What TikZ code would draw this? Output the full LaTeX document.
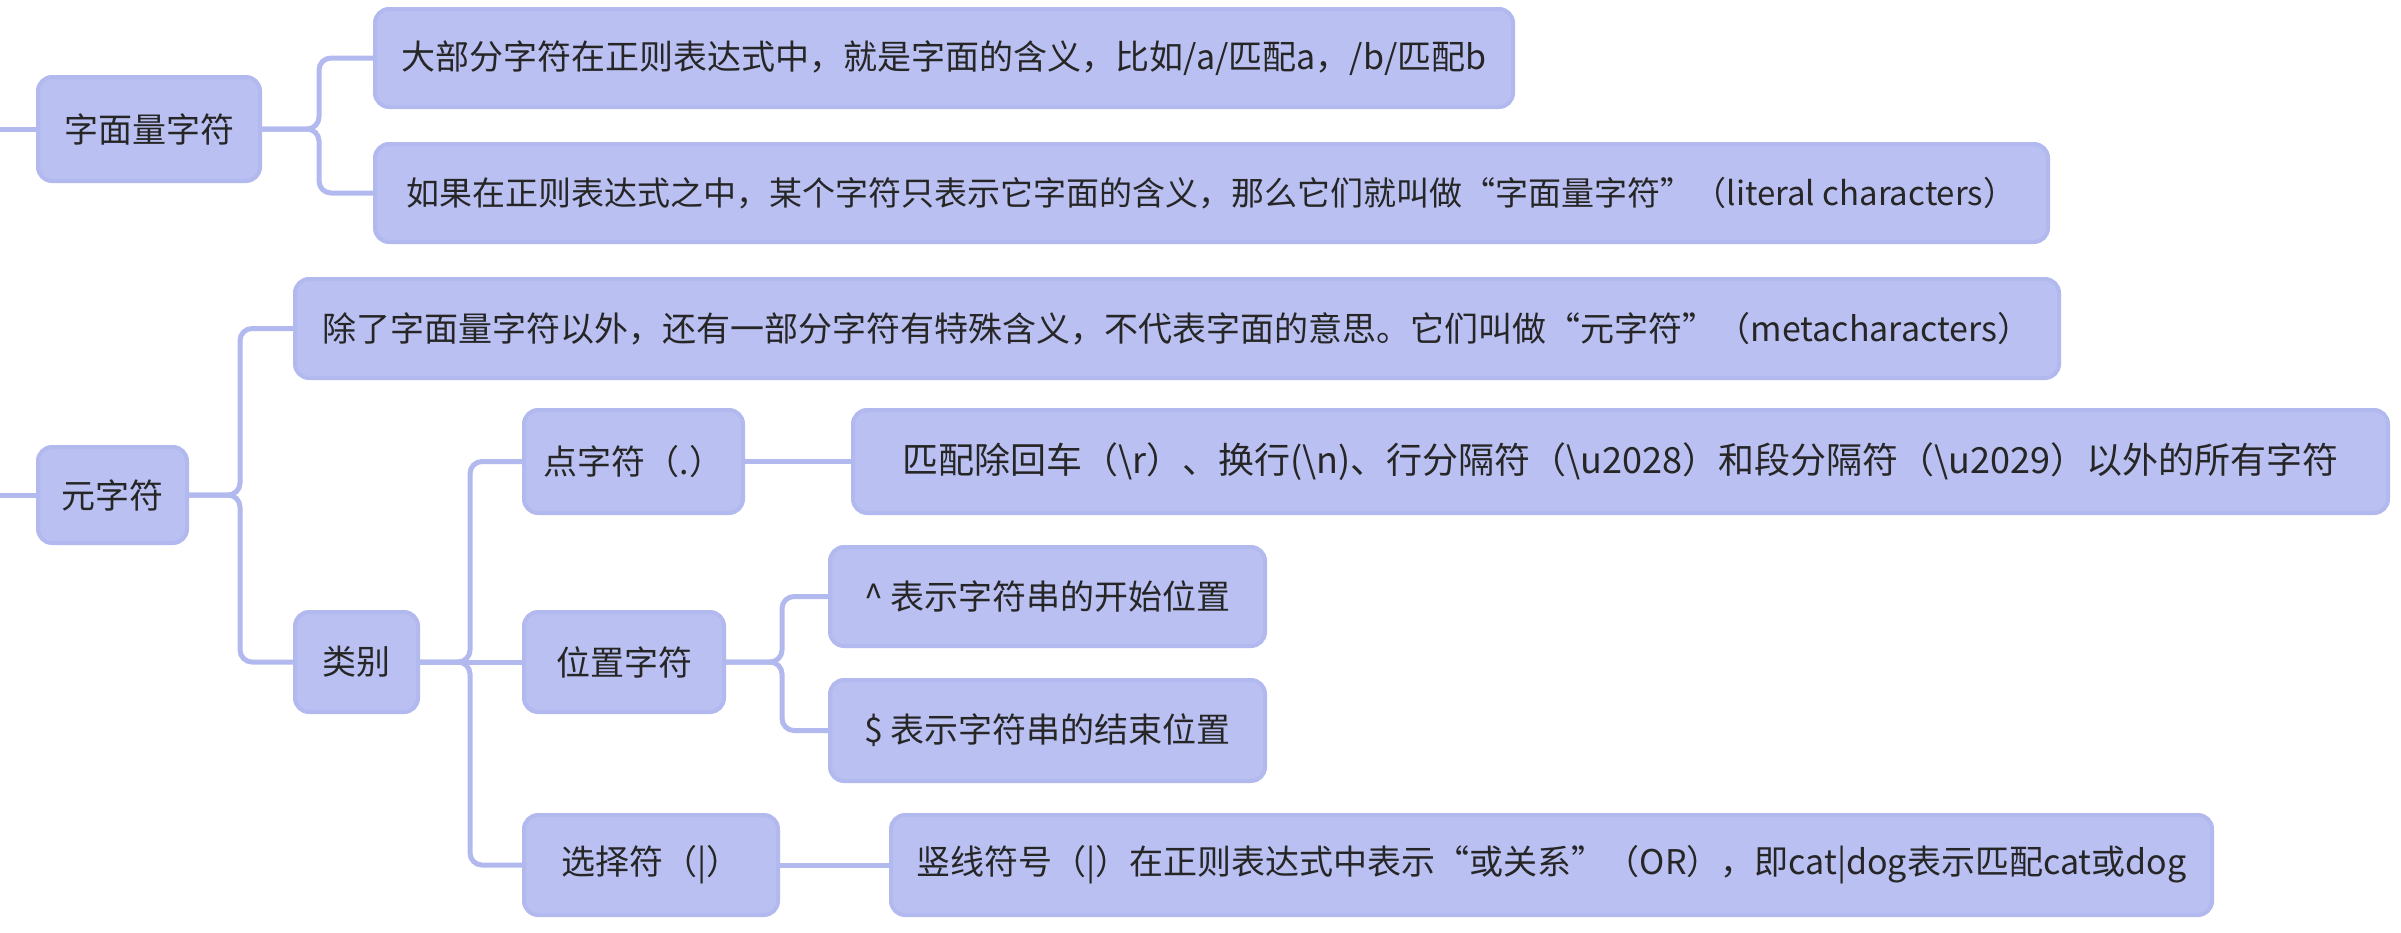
\documentclass[tikz,border=0pt]{standalone}
\usepackage{fontspec}
\setmainfont{Noto Sans CJK SC}
\definecolor{boxfill}{HTML}{BAC0F1}
\definecolor{boxline}{HTML}{B2B9EF}
\begin{document}
\begin{tikzpicture}[x=1pt,y=-1pt,
  mbox/.style={draw=boxline,fill=boxfill,line width=4pt,rounded corners=14pt,
    inner sep=0pt,font=\fontsize{34}{40}\selectfont,text=black!85},
  fs/.style={font=\fontsize{#1}{#1}\selectfont},
  conn/.style={draw=boxline,line width=5pt,rounded corners=12pt,line cap=round}]
\useasboundingbox (0,0) rectangle (2401,932);
% nodes
\node[mbox,minimum width=222pt,minimum height=104pt] (lit) at (149,129) {字面量字符};
\node[mbox,minimum width=1138pt,minimum height=98pt] (a1) at (944,58) {大部分字符在正则表达式中，就是字面的含义，比如/a/匹配a，/b/匹配b};
\node[mbox,fs=33,minimum width=1673pt,minimum height=98pt] (a2) at (1211.5,193) {如果在正则表达式之中，某个字符只表示它字面的含义，那么它们就叫做“字面量字符”（literal characters）};
\node[mbox,minimum width=149pt,minimum height=96pt] (meta) at (112.5,495) {元字符};
\node[mbox,minimum width=1764pt,minimum height=99pt] (b1) at (1177,328.5) {除了字面量字符以外，还有一部分字符有特殊含义，不代表字面的意思。它们叫做“元字符”（metacharacters）};
\node[mbox,minimum width=123pt,minimum height=100pt] (cat) at (356.5,662) {类别};
\node[mbox,minimum width=219pt,minimum height=103pt] (dot) at (633.5,461.5) {点字符（.）};
\node[mbox,fs=36,minimum width=1535pt,minimum height=103pt] (dotd) at (1620.5,461.5) {匹配除回车（\textbackslash r）、换行(\textbackslash n)、行分隔符（\textbackslash u2028）和段分隔符（\textbackslash u2029）以外的所有字符};
\node[mbox,minimum width=200pt,minimum height=100pt] (pos) at (624,662) {位置字符};
\node[mbox,minimum width=435pt,minimum height=99pt] (caret) at (1047.5,596.5) {\^{} 表示字符串的开始位置};
\node[mbox,minimum width=435pt,minimum height=101pt] (dollar) at (1047.5,730.5) {\$ 表示字符串的结束位置};
\node[mbox,minimum width=254pt,minimum height=100pt] (alt) at (651,865) {选择符（|）};
\node[mbox,minimum width=1321pt,minimum height=100pt] (altd) at (1551.5,865) {竖线符号（|）在正则表达式中表示“或关系”（OR），即cat|dog表示匹配cat或dog};
% bracket coordinates
\coordinate (s1) at (0,129);
\coordinate (s2) at (0,495);
\coordinate (bx1) at (319,0);
\coordinate (bx2) at (240,0);
\coordinate (bx3) at (470,0);
\coordinate (bx4) at (782,0);
% connectors
\draw[conn] (s1) -- (lit.west);
\draw[conn] (s2) -- (meta.west);
\draw[conn] (lit.east) -- (lit.east -| bx1) |- (a1.west);
\draw[conn] (lit.east) -- (lit.east -| bx1) |- (a2.west);
\draw[conn] (meta.east) -- (meta.east -| bx2) |- (b1.west);
\draw[conn] (meta.east) -- (meta.east -| bx2) |- (cat.west);
\draw[conn] (cat.east) -- (cat.east -| bx3) |- (dot.west);
\draw[conn] (cat.east) -- (pos.west);
\draw[conn] (cat.east) -- (cat.east -| bx3) |- (alt.west);
\draw[conn] (dot.east) -- (dotd.west);
\draw[conn] (pos.east) -- (pos.east -| bx4) |- (caret.west);
\draw[conn] (pos.east) -- (pos.east -| bx4) |- (dollar.west);
\draw[conn] (alt.east) -- (altd.west);
\end{tikzpicture}
\end{document}
